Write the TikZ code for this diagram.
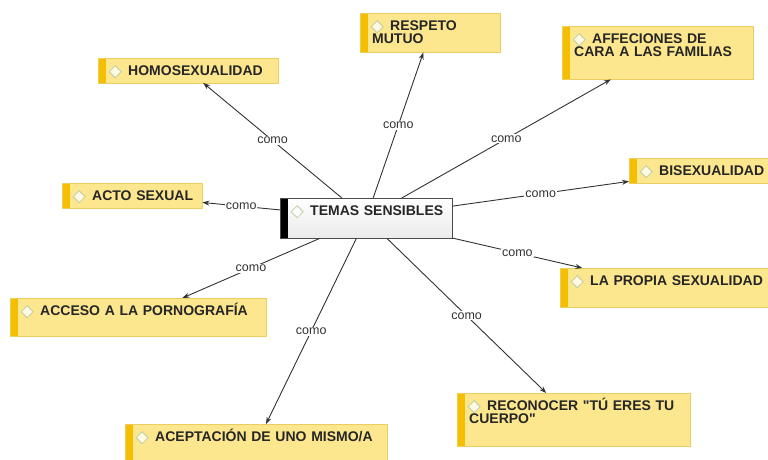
\documentclass[tikz,border=0pt]{standalone}
\usepackage{fontspec}
\setmainfont{Liberation Sans}[Ligatures=TeXOff]
\usetikzlibrary{arrows.meta}
\definecolor{amarillo}{RGB}{252,230,142}
\definecolor{borde}{RGB}{236,206,96}
\definecolor{barra}{RGB}{246,190,0}
\definecolor{rombo}{RGB}{190,206,160}
\definecolor{linea}{RGB}{50,50,50}
\begin{document}
\begin{tikzpicture}[x=1pt,y=-1pt,
	caja/.style={anchor=north west,inner xsep=12pt,inner ysep=7pt,text height=10.5pt,align=left,font=\bfseries\fontsize{14}{12.5}\selectfont,text=black!85},
	concepto/.style={caja,draw=borde,fill=amarillo,path picture={
		\fill[barra] (path picture bounding box.north west) rectangle ([xshift=8pt]path picture bounding box.south west);
		\draw[rombo,line width=0.8pt,fill=white!75!amarillo] ([shift={(11,13.5)}]path picture bounding box.north west) -- ++(6,-6) -- ++(6,6) -- ++(-6,6) -- cycle;}},
	tema/.style={caja,draw=black!70,top color=white,bottom color=black!8,path picture={
		\fill[black] (path picture bounding box.north west) rectangle ([xshift=8pt]path picture bounding box.south west);
		\draw[rombo,line width=0.8pt,fill=white] ([shift={(11,13.5)}]path picture bounding box.north west) -- ++(6,-6) -- ++(6,6) -- ++(-6,6) -- cycle;}},
	flecha/.style={draw=linea,line width=0.9pt,-{Stealth[length=7pt,width=5pt]}},
	etiqueta/.style={fill=white,inner sep=1pt,font=\fontsize{12.5}{14}\selectfont,text=black!80}]
	\useasboundingbox (0,0) rectangle (768,459);
	\clip (0,0) rectangle (768,459);
	% concepto central
	\node[tema,text width=148pt,text depth=15.5pt] (temas) at (280,198) {\hspace*{18pt}\mbox{TEMAS SENSIBLES}};
	% conceptos alrededor
	\node[concepto,text width=156pt,text depth=0pt] (homosexualidad) at (98,58) {\hspace*{18pt}\mbox{HOMOSEXUALIDAD}};
	\node[concepto,text width=116pt,text depth=14.5pt] (respeto) at (360,13) {\hspace*{18pt}\mbox{RESPETO}\\MUTUO};
	\node[concepto,text width=167pt,text depth=28.5pt] (afecciones) at (562,26) {\hspace*{18pt}\mbox{AFFECIONES DE}\\\mbox{CARA A LAS FAMILIAS}};
	\node[concepto,text width=116pt,text depth=0.5pt] (acto) at (62,183) {\hspace*{18pt}\mbox{ACTO SEXUAL}};
	\node[concepto,text width=128pt,text depth=0.5pt] (bisexualidad) at (629,158) {\hspace*{18pt}\mbox{BISEXUALIDAD}};
	\node[concepto,text width=191pt,text depth=14.5pt] (propia) at (560,268) {\hspace*{18pt}\mbox{LA PROPIA SEXUALIDAD}};
	\node[concepto,text width=232pt,text depth=13.5pt] (acceso) at (10,298) {\hspace*{18pt}\mbox{ACCESO A LA PORNOGRAFÍA}};
	\node[concepto,text width=238pt,text depth=15.5pt] (aceptacion) at (125,424) {\hspace*{18pt}\mbox{ACEPTACIÓN DE UNO MISMO/A}};
	\node[concepto,text width=209pt,text depth=28.5pt] (reconocer) at (457,393) {\hspace*{18pt}\mbox{RECONOCER "TÚ ERES TU}\\\mbox{CUERPO"}};
	% enlaces
	\foreach \destino in {homosexualidad,respeto,afecciones,acto,bisexualidad,propia,acceso,aceptacion,reconocer}
		\draw[flecha] (temas) -- node[etiqueta] {como} (\destino);
\end{tikzpicture}
\end{document}
